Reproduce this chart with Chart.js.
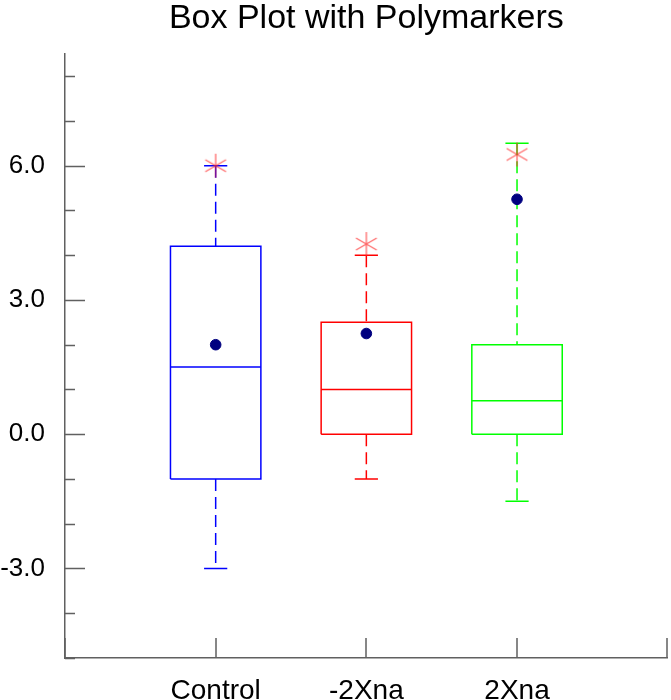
<!DOCTYPE html>
<html>
<head>
<meta charset="utf-8">
<script src="https://cdn.jsdelivr.net/npm/chart.js@4/dist/chart.umd.min.js"></script>
<style>
  html, body { margin: 0; padding: 0; background: #ffffff; }
  #wrap { width: 671px; height: 700px; overflow: hidden; }
</style>
</head>
<body>
<div id="wrap"><canvas id="chart" width="674" height="700"></canvas></div>
<script>
// Box statistics per group
const categories    = ['Control', '-2Xna', '2Xna'];
const whiskerMin    = [-3.0, -1.0, -1.5];
const lowerQuartile = [-1.0,  0.0,  0.0];
const medians       = [ 1.5,  1.0,  0.75];
const upperQuartile = [ 4.2,  2.5,  2.0];
const whiskerMax    = [ 6.0,  4.0,  6.5];
// Extra polymarkers drawn on each box
const meanMarkers     = [2.0, 2.25, 5.25];
const asteriskMarkers = [6.0, 4.25, 6.25];
// Y tick labels
const yTickValues = [-3, 0, 3, 6];

const boxColors = ['#0000ff', '#ff0000', '#00ff00'];
const BOX_HALF = 0.3;
const CAP_HALF = 0.077;
const FONT = "'Liberation Sans', Arial, Helvetica, sans-serif";

// Six-armed asterisk marker
function makeAsterisk() {
  const c = document.createElement('canvas');
  c.width = 28; c.height = 28;
  const g = c.getContext('2d');
  g.strokeStyle = 'rgba(255,40,40,0.7)';
  g.lineWidth = 1.3;
  const r = 12;
  g.beginPath();
  [90, 30, -30].forEach(a => {
    const t = a * Math.PI / 180;
    g.moveTo(14 - r * Math.cos(t), 14 + r * Math.sin(t));
    g.lineTo(14 + r * Math.cos(t), 14 - r * Math.sin(t));
  });
  g.stroke();
  return c;
}

function seg(points, color, dashed) {
  return {
    type: 'line',
    data: points,
    borderColor: color,
    borderWidth: 1.5,
    borderDash: dashed ? [12, 6] : [],
    pointRadius: 0,
    fill: false,
    tension: 0,
    order: 2
  };
}

const datasets = [];
categories.forEach((name, i) => {
  const x = i + 1;
  const col = boxColors[i];
  // box outline
  datasets.push(seg([
    {x: x - BOX_HALF, y: lowerQuartile[i]},
    {x: x + BOX_HALF, y: lowerQuartile[i]},
    {x: x + BOX_HALF, y: upperQuartile[i]},
    {x: x - BOX_HALF, y: upperQuartile[i]},
    {x: x - BOX_HALF, y: lowerQuartile[i]}
  ], col, false));
  // median
  datasets.push(seg([{x: x - BOX_HALF, y: medians[i]}, {x: x + BOX_HALF, y: medians[i]}], col, false));
  // whiskers
  datasets.push(seg([{x: x, y: whiskerMax[i]}, {x: x, y: upperQuartile[i]}], col, true));
  datasets.push(seg([{x: x, y: lowerQuartile[i]}, {x: x, y: whiskerMin[i]}], col, true));
  // whisker caps
  datasets.push(seg([{x: x - CAP_HALF, y: whiskerMax[i]}, {x: x + CAP_HALF, y: whiskerMax[i]}], col, false));
  datasets.push(seg([{x: x - CAP_HALF, y: whiskerMin[i]}, {x: x + CAP_HALF, y: whiskerMin[i]}], col, false));
});

datasets.push({
  type: 'scatter',
  data: meanMarkers.map((v, i) => ({x: i + 1, y: v})),
  backgroundColor: '#000080',
  borderColor: '#000080',
  pointRadius: 5.3,
  pointHoverRadius: 5.3,
  order: 0
});
datasets.push({
  type: 'scatter',
  data: asteriskMarkers.map((v, i) => ({x: i + 1, y: v})),
  pointStyle: makeAsterisk(),
  order: 0
});

// Inward tick marks on the left and bottom axes
const inwardTicks = {
  id: 'inwardTicks',
  afterDatasetsDraw(chart) {
    const {ctx, chartArea, scales} = chart;
    ctx.save();
    ctx.strokeStyle = '#606060';
    ctx.lineWidth = 1.5;
    ctx.beginPath();
    for (let v = -5; v <= 8; v++) {
      const py = Math.round(scales.y.getPixelForValue(v)) + 0.5;
      const len = (v % 3 === 0) ? 20 : 10;
      ctx.moveTo(chartArea.left, py);
      ctx.lineTo(chartArea.left + len, py);
    }
    for (let v = 0; v <= 4; v++) {
      const px = Math.round(scales.x.getPixelForValue(v)) - (v === 4 ? 1 : 0);
      ctx.moveTo(px, chartArea.bottom);
      ctx.lineTo(px, chartArea.bottom - 20);
    }
    ctx.stroke();
    ctx.restore();
  }
};

new Chart(document.getElementById('chart'), {
  type: 'scatter',
  data: { datasets },
  options: {
    responsive: false,
    animation: false,
    devicePixelRatio: 1,
    plugins: {
      legend: { display: false },
      tooltip: { enabled: false },
      title: {
        display: true,
        text: 'Box Plot with Polymarkers',
        fullSize: false,
        color: '#000000',
        font: { family: FONT, size: 34, weight: 'normal' },
        padding: { top: -2, bottom: 15 }
      }
    },
    scales: {
      x: {
        type: 'linear',
        min: 0,
        max: 4,
        afterBuildTicks: axis => { axis.ticks = categories.map((c, i) => ({value: i + 1})); },
        afterFit: axis => { axis.height = 42; },
        ticks: {
          color: '#000000',
          font: { family: FONT, size: 28 },
          padding: 16,
          maxRotation: 0,
          autoSkip: false,
          callback: v => categories[Math.round(v) - 1] || ''
        },
        grid: { display: false, drawTicks: false },
        border: { display: true, color: '#606060', width: 1.5 }
      },
      y: {
        type: 'linear',
        min: -5,
        max: 8.5,
        afterBuildTicks: axis => { axis.ticks = yTickValues.map(v => ({value: v})); },
        afterFit: axis => { axis.width = 65; },
        ticks: {
          color: '#000000',
          font: { family: FONT, size: 26 },
          padding: 20,
          callback: v => Number(v).toFixed(1)
        },
        grid: { display: false, drawTicks: false },
        border: { display: true, color: '#606060', width: 1.5 }
      }
    }
  },
  plugins: [inwardTicks]
});
</script>
</body>
</html>
